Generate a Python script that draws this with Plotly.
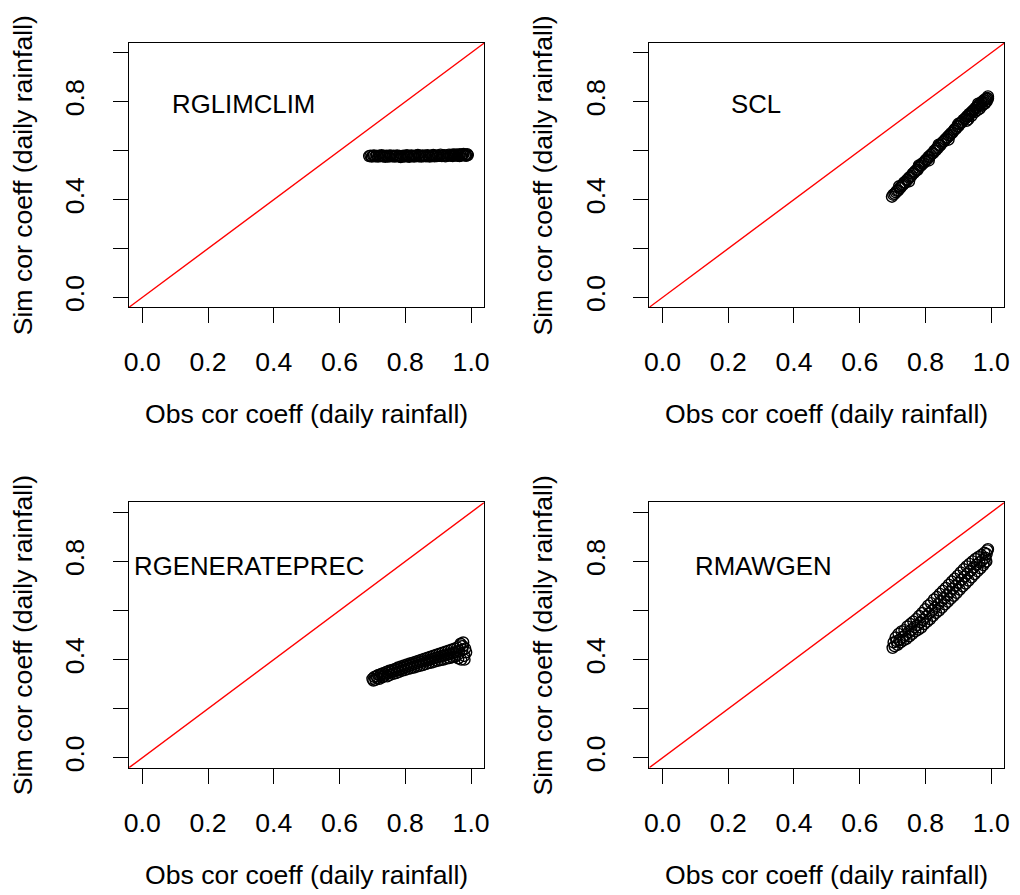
import plotly.graph_objects as go

# ---------------- data ----------------
panel_names = ["RGLIMCLIM", "SCL", "RGENERATEPREC", "RMAWGEN"]

rglimclim_obs = [0.690,0.694,0.698,0.702,0.705,0.709,0.713,0.717,0.720,0.724,
                 0.728,0.731,0.735,0.739,0.742,0.746,0.750,0.753,0.757,0.761,
                 0.764,0.768,0.772,0.775,0.779,0.783,0.786,0.790,0.794,0.797,
                 0.801,0.805,0.808,0.812,0.816,0.819,0.823,0.827,0.830,0.834,
                 0.838,0.841,0.845,0.849,0.852,0.856,0.860,0.863,0.867,0.871,
                 0.874,0.878,0.882,0.885,0.889,0.893,0.896,0.900,0.904,0.907,
                 0.911,0.915,0.918,0.922,0.926,0.929,0.933,0.937,0.940,0.944,
                 0.948,0.951,0.955,0.959,0.962,0.966,0.970,0.973,0.977,0.981,
                 0.984,0.988,0.990,0.985,0.975,0.965,0.955,0.945]
rglimclim_sim = [0.578,0.580,0.576,0.579,0.581,0.577,0.579,0.576,0.580,0.578,
                 0.582,0.577,0.579,0.575,0.580,0.578,0.576,0.581,0.579,0.577,
                 0.580,0.576,0.578,0.581,0.577,0.579,0.574,0.578,0.580,0.576,
                 0.579,0.582,0.577,0.575,0.579,0.581,0.578,0.576,0.580,0.578,
                 0.583,0.577,0.579,0.576,0.581,0.578,0.580,0.577,0.582,0.579,
                 0.576,0.580,0.578,0.583,0.577,0.580,0.578,0.581,0.579,0.584,
                 0.578,0.580,0.582,0.577,0.581,0.579,0.584,0.580,0.582,0.578,
                 0.583,0.581,0.585,0.579,0.582,0.586,0.580,0.583,0.587,0.581,
                 0.584,0.586,0.582,0.579,0.584,0.578,0.582,0.585]

scl_obs = [0.698,0.702,0.706,0.710,0.713,0.717,0.721,0.724,0.728,0.732,
           0.735,0.739,0.743,0.746,0.750,0.754,0.757,0.761,0.765,0.768,
           0.772,0.776,0.779,0.783,0.787,0.790,0.794,0.798,0.801,0.805,
           0.809,0.812,0.816,0.820,0.823,0.827,0.831,0.834,0.838,0.842,
           0.845,0.849,0.853,0.856,0.860,0.864,0.867,0.871,0.875,0.878,
           0.882,0.886,0.889,0.893,0.897,0.900,0.904,0.908,0.911,0.915,
           0.919,0.922,0.926,0.930,0.933,0.937,0.941,0.944,0.948,0.952,
           0.955,0.959,0.963,0.966,0.970,0.974,0.977,0.981,0.985,0.988,
           0.990,0.986,0.982,0.978,0.972,0.965,0.958,0.950,0.940,0.925,
           0.720,0.750,0.780,0.810,0.840,0.870,0.900,0.930,0.960,0.990]
scl_sim = [0.412,0.420,0.424,0.430,0.436,0.438,0.447,0.449,0.458,0.461,
           0.470,0.470,0.480,0.482,0.490,0.494,0.497,0.506,0.509,0.515,
           0.521,0.522,0.531,0.537,0.540,0.548,0.549,0.556,0.562,0.565,
           0.575,0.574,0.583,0.588,0.590,0.600,0.601,0.609,0.612,0.621,
           0.622,0.630,0.636,0.638,0.646,0.650,0.655,0.662,0.664,0.672,
           0.674,0.682,0.688,0.690,0.700,0.700,0.710,0.714,0.717,0.726,
           0.729,0.733,0.740,0.742,0.750,0.752,0.760,0.762,0.768,0.775,
           0.777,0.784,0.786,0.792,0.798,0.800,0.806,0.810,0.812,0.816,
           0.822,0.802,0.795,0.790,0.784,0.772,0.766,0.758,0.742,0.722,
           0.455,0.475,0.540,0.560,0.625,0.645,0.710,0.728,0.792,0.812]

rgen_obs = [0.700,0.703,0.706,0.709,0.712,0.715,0.718,0.721,0.724,0.727,
            0.730,0.733,0.736,0.739,0.742,0.745,0.748,0.751,0.754,0.757,
            0.760,0.763,0.766,0.769,0.772,0.775,0.778,0.781,0.784,0.787,
            0.790,0.793,0.796,0.799,0.802,0.805,0.808,0.811,0.814,0.817,
            0.820,0.823,0.826,0.829,0.832,0.835,0.838,0.841,0.844,0.847,
            0.850,0.853,0.856,0.859,0.862,0.865,0.868,0.871,0.874,0.877,
            0.880,0.883,0.886,0.889,0.892,0.895,0.898,0.901,0.904,0.907,
            0.910,0.913,0.916,0.919,0.922,0.925,0.928,0.931,0.934,0.937,
            0.940,0.943,0.946,0.949,0.952,0.955,0.958,0.961,0.964,0.967,
            0.970,0.973,0.976,0.979,0.982,0.985,0.975,0.968,0.980,0.960]
rgen_sim = [0.322,0.315,0.330,0.318,0.333,0.325,0.338,0.322,0.335,0.342,
            0.328,0.345,0.333,0.340,0.350,0.332,0.346,0.355,0.338,0.350,
            0.358,0.342,0.354,0.362,0.345,0.358,0.368,0.350,0.362,0.372,
            0.355,0.366,0.376,0.358,0.370,0.380,0.362,0.374,0.384,0.365,
            0.378,0.388,0.368,0.382,0.392,0.372,0.386,0.396,0.375,0.390,
            0.400,0.378,0.393,0.404,0.382,0.396,0.408,0.386,0.400,0.412,
            0.388,0.403,0.416,0.392,0.407,0.420,0.395,0.410,0.424,0.398,
            0.414,0.428,0.400,0.417,0.432,0.404,0.420,0.436,0.406,0.424,
            0.440,0.410,0.428,0.445,0.412,0.432,0.450,0.405,0.436,0.458,
            0.400,0.440,0.470,0.415,0.445,0.430,0.455,0.465,0.400,0.420]

rmaw_obs = [0.700,0.703,0.706,0.709,0.712,0.715,0.718,0.721,0.724,0.727,
            0.730,0.733,0.736,0.739,0.742,0.745,0.748,0.751,0.754,0.757,
            0.760,0.763,0.766,0.769,0.772,0.775,0.778,0.781,0.784,0.787,
            0.790,0.793,0.796,0.799,0.802,0.805,0.808,0.811,0.814,0.817,
            0.820,0.823,0.826,0.829,0.832,0.835,0.838,0.841,0.844,0.847,
            0.850,0.853,0.856,0.859,0.862,0.865,0.868,0.871,0.874,0.877,
            0.880,0.883,0.886,0.889,0.892,0.895,0.898,0.901,0.904,0.907,
            0.910,0.913,0.916,0.919,0.922,0.925,0.928,0.931,0.934,0.937,
            0.940,0.943,0.946,0.949,0.952,0.955,0.958,0.961,0.964,0.967,
            0.970,0.973,0.976,0.979,0.982,0.985,0.988,0.990,0.986,0.980]
rmaw_sim = [0.448,0.470,0.455,0.490,0.475,0.460,0.505,0.480,0.470,0.515,
            0.492,0.478,0.520,0.500,0.485,0.535,0.512,0.495,0.545,0.520,
            0.505,0.555,0.532,0.515,0.565,0.540,0.522,0.578,0.552,0.530,
            0.590,0.562,0.545,0.605,0.575,0.555,0.620,0.588,0.565,0.630,
            0.600,0.578,0.645,0.612,0.590,0.655,0.625,0.600,0.668,0.638,
            0.612,0.680,0.650,0.625,0.692,0.662,0.636,0.705,0.675,0.648,
            0.718,0.688,0.660,0.730,0.700,0.672,0.742,0.712,0.685,0.755,
            0.725,0.698,0.768,0.738,0.710,0.780,0.750,0.722,0.790,0.762,
            0.735,0.800,0.775,0.748,0.810,0.786,0.760,0.818,0.796,0.772,
            0.826,0.805,0.785,0.835,0.815,0.800,0.845,0.850,0.830,0.795]

label_x = [0.308, 0.285, 0.325, 0.307]
label_y = [0.79, 0.79, 0.78, 0.78]

x_ticks = [0.0, 0.2, 0.4, 0.6, 0.8, 1.0]
x_ticktext = ["0.0", "0.2", "0.4", "0.6", "0.8", "1.0"]
y_ticks = [0.0, 0.2, 0.4, 0.6, 0.8, 1.0]
y_ticktext = ["0.0", "", "0.4", "", "0.8", ""]

x_title = "Obs cor coeff (daily rainfall)"
y_title = "Sim cor coeff (daily rainfall)"
axis_range = [-0.04, 1.04]

series = [(rglimclim_obs, rglimclim_sim), (scl_obs, scl_sim),
          (rgen_obs, rgen_sim), (rmaw_obs, rmaw_sim)]

# ---------------- layout ----------------
W, H = 1020, 895
FONT = "Liberation Sans, Arial, sans-serif"
FS = 26.6
FS_LABEL = 25.8

px_x = [(125.3, 484.0), (650.7, 1009.3), (125.3, 484.0), (650.7, 1009.3)]
px_y = [(43.3, 309.0), (43.3, 309.0), (505.3, 772.0), (505.3, 772.0)]

fig = go.Figure()
layout = dict(width=W, height=H, margin=dict(l=0, r=0, t=0, b=0),
              paper_bgcolor="white", plot_bgcolor="white", showlegend=False,
              font=dict(family=FONT, size=FS, color="black"))
annotations = []

for i in range(4):
    n = "" if i == 0 else str(i + 1)
    xa, ya = "x" + n, "y" + n
    xd = [px_x[i][0] / W, px_x[i][1] / W]
    yd = [1 - px_y[i][1] / H, 1 - px_y[i][0] / H]
    common = dict(range=axis_range, showgrid=False, zeroline=False,
                  showline=True, linecolor="black", linewidth=1.3, mirror=True,
                  ticks="outside", ticklen=15, tickwidth=1.3, tickcolor="black",
                  tickfont=dict(family=FONT, size=FS, color="black"))
    layout["xaxis" + n] = dict(domain=xd, anchor=ya, tickvals=x_ticks,
                               ticktext=x_ticktext, ticklabelstandoff=16, **common)
    layout["yaxis" + n] = dict(domain=yd, anchor=xa, tickvals=y_ticks,
                               ticktext=y_ticktext, tickangle=-90,
                               ticklabelstandoff=18, **common)

    obs, sim = series[i]
    fig.add_trace(go.Scatter(x=obs, y=sim, mode="markers", xaxis=xa, yaxis=ya,
                             marker=dict(symbol="circle-open", size=11, color="black",
                                         line=dict(width=1.4, color="black")),
                             hoverinfo="skip"))
    fig.add_trace(go.Scatter(x=axis_range, y=axis_range, mode="lines",
                             xaxis=xa, yaxis=ya,
                             line=dict(color="red", width=1.4), hoverinfo="skip"))

    annotations.append(dict(x=label_x[i], y=label_y[i], xref=xa, yref=ya,
                            text=panel_names[i], showarrow=False,
                            font=dict(family=FONT, size=FS_LABEL, color="black"),
                            xanchor="center", yanchor="middle"))
    cx = (px_x[i][0] + px_x[i][1]) / 2 / W
    cy = 1 - (px_y[i][0] + px_y[i][1]) / 2 / H
    annotations.append(dict(x=cx, y=1 - (px_y[i][1] + 107.7) / H, xref="paper", yref="paper",
                            text=x_title, showarrow=False,
                            font=dict(family=FONT, size=FS, color="black"),
                            xanchor="center", yanchor="middle"))
    annotations.append(dict(x=(px_x[i][0] - 107) / W, y=cy, xref="paper", yref="paper",
                            text=y_title, showarrow=False, textangle=-90,
                            font=dict(family=FONT, size=FS, color="black"),
                            xanchor="center", yanchor="middle"))

layout["annotations"] = annotations
fig.update_layout(**layout)
fig.write_html("out.html")
